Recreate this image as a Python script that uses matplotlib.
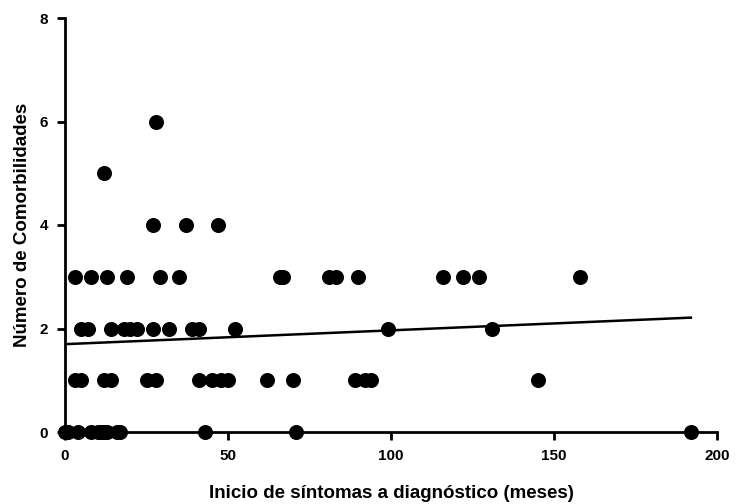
import numpy as np
import matplotlib
matplotlib.use("Agg")
import matplotlib.pyplot as plt

plt.rcParams['font.family'] = ['Liberation Sans', 'DejaVu Sans']
plt.rcParams['font.weight'] = 'bold'

# months from symptom onset to diagnosis, grouped by number of comorbidities
meses_0 = [0, 1, 4, 8, 10, 11, 12, 13, 16, 17, 43, 71, 192]
meses_1 = [3, 5, 12, 14, 25, 28, 41, 45, 48, 50, 62, 70, 89, 92, 94, 145]
meses_2 = [5, 7, 14, 18, 20, 22, 27, 32, 39, 41, 52, 99, 131]
meses_3 = [3, 8, 13, 19, 29, 35, 66, 67, 81, 83, 90, 116, 122, 127, 158]
meses_4 = [27, 37, 47]
meses_5 = [12]
meses_6 = [28]

# linear fit as shown in the chart
fit_x = [1.0, 192.0]
fit_y = [1.70, 2.21]

grupos = [meses_0, meses_1, meses_2, meses_3, meses_4, meses_5, meses_6]
x = np.array([m for g in grupos for m in g], dtype=float)
y = np.array([i for i, g in enumerate(grupos) for _ in g], dtype=float)

fig = plt.figure(figsize=(7.4, 5.04), dpi=100)
ax = fig.add_axes([65 / 740, 72 / 504, 652 / 740, 414 / 504])

ax.plot(x, y, 'o', color='black', ms=9.8, clip_on=False, zorder=3)
ax.plot(fit_x, fit_y, color='black', lw=1.8, zorder=2)

ax.set_xlim(0, 200)
ax.set_ylim(0, 8)
ax.set_xticks([0, 50, 100, 150, 200])
ax.set_yticks([0, 2, 4, 6, 8])
for s in ['top', 'right']:
    ax.spines[s].set_visible(False)
for s in ['left', 'bottom']:
    ax.spines[s].set_linewidth(2)
ax.tick_params(width=2, length=6, labelsize=11, pad=6)
for lab in ax.get_xticklabels() + ax.get_yticklabels():
    lab.set_fontweight('bold')

ax.set_xlabel('Inicio de síntomas a diagnóstico (meses)', fontsize=13.5, fontweight='bold', labelpad=16)
ax.set_ylabel('Número de Comorbilidades', fontsize=13.5, fontweight='bold', labelpad=6)

fig.savefig('out.png', dpi=100)
